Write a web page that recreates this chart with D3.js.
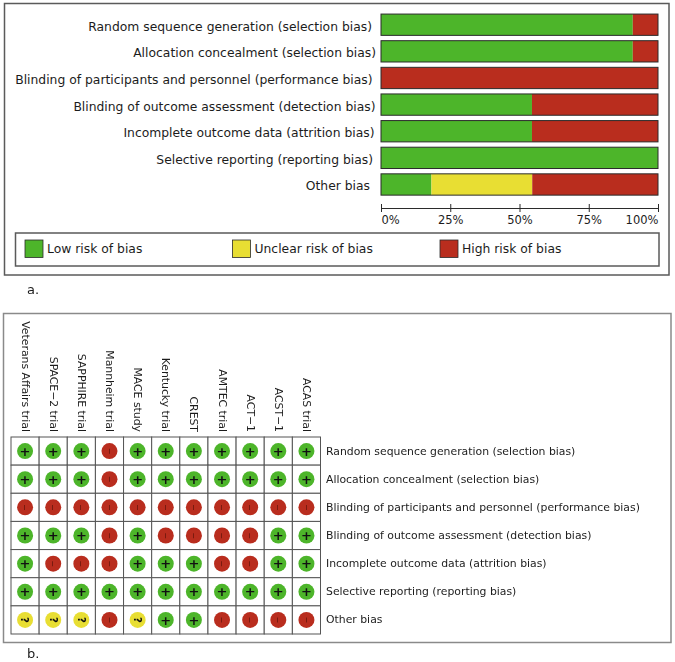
<!DOCTYPE html>
<html><head><meta charset="utf-8">
<script src="https://cdn.jsdelivr.net/npm/d3@7"></script>
<style>
html,body{margin:0;padding:0;background:#fff}
svg{display:block;filter:blur(0.45px)}
text{font-family:"DejaVu Sans",sans-serif;fill:#1c1c1c}
</style></head><body><div id="chart"></div>
<script>
const domains = ["Random sequence generation (selection bias)","Allocation concealment (selection bias)","Blinding of participants and personnel (performance bias)","Blinding of outcome assessment (detection bias)","Incomplete outcome data (attrition bias)","Selective reporting (reporting bias)","Other bias"];
const lowRisk = [90.9,90.9,0,54.5,54.5,100,18.2];
const unclearRisk = [0,0,0,0,0,0,36.4];
const highRisk = [9.1,9.1,100,45.5,45.5,0,45.5];
const legendLabels = ["Low risk of bias","Unclear risk of bias","High risk of bias"];
const axisTicks = [0,25,50,75,100];
const trials = ["Veterans Affairs trial","SPACE\u22122 trial","SAPPHIRE trial","Mannheim trial","MACE study","Kentucky trial","CREST","AMTEC trial","ACT\u22121","ACST\u22121","ACAS trial"];
const rowRandom  = ["+","+","+","-","+","+","+","+","+","+","+"];
const rowAlloc   = ["+","+","+","-","+","+","+","+","+","+","+"];
const rowPartic  = ["-","-","-","-","-","-","-","-","-","-","-"];
const rowOutcome = ["+","+","+","-","+","-","-","-","-","+","+"];
const rowIncompl = ["+","-","-","-","+","+","+","-","-","+","+"];
const rowSelect  = ["+","+","+","+","+","+","+","+","+","+","+"];
const rowOther   = ["?","?","?","-","?","+","+","-","-","-","-"];
const judgements = [rowRandom,rowAlloc,rowPartic,rowOutcome,rowIncompl,rowSelect,rowOther];

const GREEN="#4db52a", YELLOW="#e8de33", RED="#b92d1e", INK="#2b2b2b", FRAME="#5a5a5a";
const colors={"+":GREEN,"?":YELLOW,"-":RED};

const svg=d3.select("#chart").append("svg").attr("width",675).attr("height",662);
function frame(x0,y0,x1,y1,c,w){svg.append("rect").attr("x",x0).attr("y",y0).attr("width",x1-x0).attr("height",y1-y0).attr("fill","#fff").attr("stroke",c).attr("stroke-width",w);}

/* Panel a */
frame(4.5,3.5,669,275,FRAME,1.5);
const x=d3.scaleLinear().domain([0,100]).range([381,658]);
const y=d3.scaleBand().domain(domains).range([11.4,197.8]).paddingInner(0.2).paddingOuter(0.1);
const labelEnds=[372,376,372.5,375.5,374.5,373,370];
const FS_A=12.35, FS_B=10.85;
const gA=svg.append("g");
gA.selectAll("text.dom").data(domains).join("text").attr("class","dom")
  .attr("x",(d,i)=>labelEnds[i]).attr("y",d=>y(d)+y.bandwidth()/2+6)
  .attr("text-anchor","end").attr("font-size",FS_A).text(d=>d);
const stack=domains.map((d,i)=>({d,segs:[[0,lowRisk[i],GREEN],[lowRisk[i],lowRisk[i]+unclearRisk[i],YELLOW],[lowRisk[i]+unclearRisk[i],100,RED]]}));
const bars=gA.selectAll("g.bar").data(stack).join("g").attr("class","bar");
bars.selectAll("rect").data(d=>d.segs.filter(s=>s[1]>s[0]).map(s=>({s,d:d.d}))).join("rect")
  .attr("x",e=>x(e.s[0])).attr("width",e=>x(e.s[1])-x(e.s[0]))
  .attr("y",e=>y(e.d)).attr("height",y.bandwidth()).attr("fill",e=>e.s[2]);
bars.append("rect").attr("x",x(0)).attr("width",x(100)-x(0)).attr("y",d=>y(d.d)).attr("height",y.bandwidth())
  .attr("fill","none").attr("stroke",INK).attr("stroke-width",1);
const ax=svg.append("g").attr("transform","translate(0,208)")
  .call(d3.axisBottom(x).tickValues(axisTicks).tickFormat(d=>d+"%").tickSize(4).tickSizeOuter(0).tickPadding(4));
ax.select(".domain").attr("stroke",INK).attr("stroke-width",1);
ax.selectAll(".tick line").attr("stroke",INK).attr("y1",-4).attr("y2",4);
ax.selectAll(".tick text").attr("font-size",11.5).attr("font-family",'"DejaVu Sans",sans-serif').attr("fill","#1c1c1c")
  .attr("text-anchor",d=>d===0?"start":d===100?"end":"middle");

/* legend */
frame(15.5,233,659,266,FRAME,1.5);
const legendX=d3.scalePoint().domain(legendLabels).range([25,440]);
const legendColors=[GREEN,YELLOW,RED];
const lg=svg.append("g").selectAll("g").data(legendLabels).join("g")
  .attr("transform",d=>`translate(${d===legendLabels[1]?232.5:legendX(d)},240)`);
lg.append("rect").attr("width",18).attr("height",17.5).attr("fill",(d,i)=>legendColors[i]).attr("stroke",INK).attr("stroke-width",.8);
lg.append("text").attr("x",22).attr("y",13).attr("font-size",FS_A).text(d=>d);
svg.append("text").attr("x",27).attr("y",294).attr("font-size",13).text("a.");

/* Panel b */
frame(3.5,313.5,671,642.5,"#8a8a8a",1.5);
const cx=d3.scaleBand().domain(trials).range([11,320.5]);
const cy=d3.scaleBand().domain(domains).range([437,634]);
const gB=svg.append("g");
gB.selectAll("text.trial").data(trials).join("text").attr("class","trial")
  .attr("transform",d=>`translate(${cx(d)+cx.bandwidth()/2-3.5},432) rotate(90)`)
  .attr("text-anchor","end").attr("font-size",FS_B).text(d=>d);
gB.selectAll("text.row").data(domains).join("text").attr("class","row")
  .attr("x",326).attr("y",d=>cy(d)+cy.bandwidth()/2+3.5).attr("font-size",FS_B).text(d=>d);
const cells=domains.flatMap((d,i)=>trials.map((t,j)=>({d,t,v:judgements[i][j]})));
const cg=gB.selectAll("g.cell").data(cells).join("g").attr("class","cell")
  .attr("transform",e=>`translate(${cx(e.t)},${cy(e.d)})`);
cg.append("rect").attr("width",cx.bandwidth()).attr("height",cy.bandwidth()).attr("fill","#fff").attr("stroke","#555").attr("stroke-width",1);
const mid=cg.append("g").attr("transform",`translate(${cx.bandwidth()/2},${cy.bandwidth()/2})`);
mid.append("circle").attr("r",8).attr("fill",e=>colors[e.v]);
mid.append("text").attr("text-anchor","middle").attr("font-size",e=>e.v==="+"?13:e.v==="?"?10:8)
  .attr("font-weight",e=>e.v==="-"?"normal":"bold")
  .attr("y",0).attr("dy","0.36em")
  .style("fill",e=>e.v==="-"?"#5a1209":"#111")
  .attr("transform",e=>e.v==="+"?null:"rotate(90)")
  .text(e=>e.v==="-"?"\u2212":e.v);
svg.append("text").attr("x",27).attr("y",658).attr("font-size",13).text("b.");
</script></body></html>
